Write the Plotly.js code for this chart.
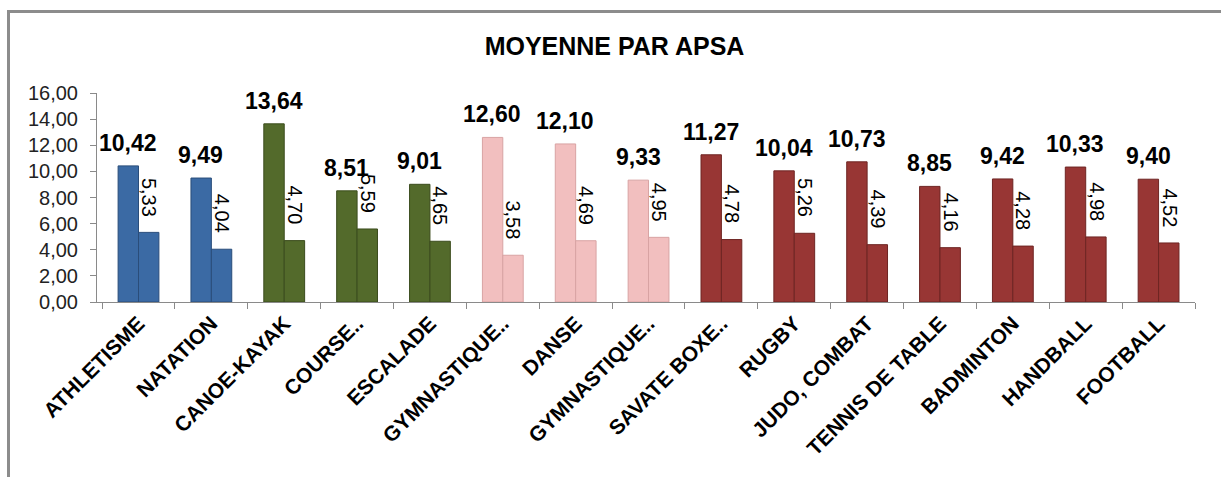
<!DOCTYPE html>
<html>
<head>
<meta charset="utf-8">
<script src="https://cdn.plot.ly/plotly-3.0.1.min.js"></script>
<style>
  html, body { margin: 0; padding: 0; background: #fff; overflow: hidden; }
  #frame {
    position: absolute; left: 7px; top: 10px; width: 1400px; height: 600px;
    border-top: 3px solid #8c8c8c; border-left: 3px solid #8c8c8c;
    pointer-events: none;
  }
  #chart { position: absolute; left: 0; top: 0; width: 1221px; height: 477px; }
</style>
</head>
<body>
<div id="chart"></div>
<div id="frame"></div>
<script>
const apsa = [
  'ATHLETISME', 'NATATION', 'CANOE-KAYAK', 'COURSE..', 'ESCALADE',
  'GYMNASTIQUE..', 'DANSE', 'GYMNASTIQUE..', 'SAVATE BOXE..', 'RUGBY',
  'JUDO, COMBAT', 'TENNIS DE TABLE', 'BADMINTON', 'HANDBALL', 'FOOTBALL'
];
// competence family of each APSA (drives the bar colour)
const family = ['CP1', 'CP1', 'CP2', 'CP2', 'CP2', 'CP3', 'CP3', 'CP3',
                'CP4', 'CP4', 'CP4', 'CP4', 'CP4', 'CP4', 'CP4'];
const moyenne = [10.42, 9.49, 13.64, 8.51, 9.01, 12.60, 12.10, 9.33,
                 11.27, 10.04, 10.73, 8.85, 9.42, 10.33, 9.40];
const ecart = [5.33, 4.04, 4.70, 5.59, 4.65, 3.58, 4.69, 4.95,
               4.78, 5.26, 4.39, 4.16, 4.28, 4.98, 4.52];

const familyColor = { CP1: '#3b6aa4', CP2: '#536a2b', CP3: '#f2bfbf', CP4: '#983634' };
const familyEdge = { CP1: '#2a4d7a', CP2: '#3b4c1d', CP3: '#d8a3a3', CP4: '#6e2523' };

// unique x keys so the repeated "GYMNASTIQUE.." labels stay separate
const xKeys = apsa.map((a, i) => i);
const fmt = v => v.toFixed(2).replace('.', ',');
const FONT = 'Arial, "Liberation Sans", sans-serif';

function barTrace(values, name) {
  return {
    type: 'bar',
    name,
    x: xKeys,
    y: values,
    marker: {
      color: family.map(f => familyColor[f]),
      line: { color: family.map(f => familyEdge[f]), width: 1 }
    },
    hoverinfo: 'y'
  };
}

const annotations = [];
moyenne.forEach((v, i) => {
  annotations.push({
    x: xKeys[i], y: v, xref: 'x', yref: 'y',
    text: '<b>' + fmt(v) + '</b>', showarrow: false,
    xanchor: 'center', yanchor: 'bottom', xshift: -10.5, yshift: 8,
    font: { family: FONT, size: 23, color: '#000' }
  });
});
ecart.forEach((v, i) => {
  annotations.push({
    x: xKeys[i], y: v, xref: 'x', yref: 'y',
    text: fmt(v), showarrow: false, textangle: 90,
    xanchor: 'center', yanchor: 'bottom', xshift: 10.5, yshift: 14,
    font: { family: FONT, size: 20, color: '#000' }
  });
});

const layout = {
  width: 1221,
  height: 477,
  margin: { l: 97, r: 26, t: 93, b: 175 },
  paper_bgcolor: 'rgba(0,0,0,0)',
  plot_bgcolor: 'rgba(0,0,0,0)',
  separators: ', ',
  showlegend: false,
  barmode: 'group',
  bargap: 0.44,
  bargroupgap: 0,
  font: { family: FONT, color: '#000' },
  title: {
    text: '<b>MOYENNE PAR APSA</b>',
    font: { family: FONT, size: 25, color: '#000' },
    xref: 'container', x: 0.5033, xanchor: 'center',
    yref: 'container', y: 0.902, yanchor: 'middle'
  },
  xaxis: {
    type: 'category',
    tickmode: 'array',
    tickvals: xKeys,
    ticktext: apsa.map(a => '<b>' + a + '</b>'),
    tickangle: -45,
    tickfont: { family: FONT, size: 21, color: '#000' },
    showline: true, linecolor: '#8a8a8a', linewidth: 1,
    ticks: 'outside', tickson: 'boundaries', ticklen: 6, tickcolor: '#8a8a8a',
    showgrid: false, zeroline: false
  },
  yaxis: {
    range: [0, 16],
    dtick: 2,
    tickformat: '.2f',
    tickfont: { family: FONT, size: 20, color: '#222' },
    ticklabelstandoff: 8,
    showline: true, linecolor: '#8a8a8a', linewidth: 1,
    ticks: 'outside', ticklen: 6, tickcolor: '#8a8a8a',
    showgrid: false, zeroline: false
  },
  annotations
};

Plotly.newPlot('chart', [barTrace(moyenne, 'Moyenne'), barTrace(ecart, 'Ecart-type')], layout,
  { displayModeBar: false, staticPlot: true });
</script>
</body>
</html>
